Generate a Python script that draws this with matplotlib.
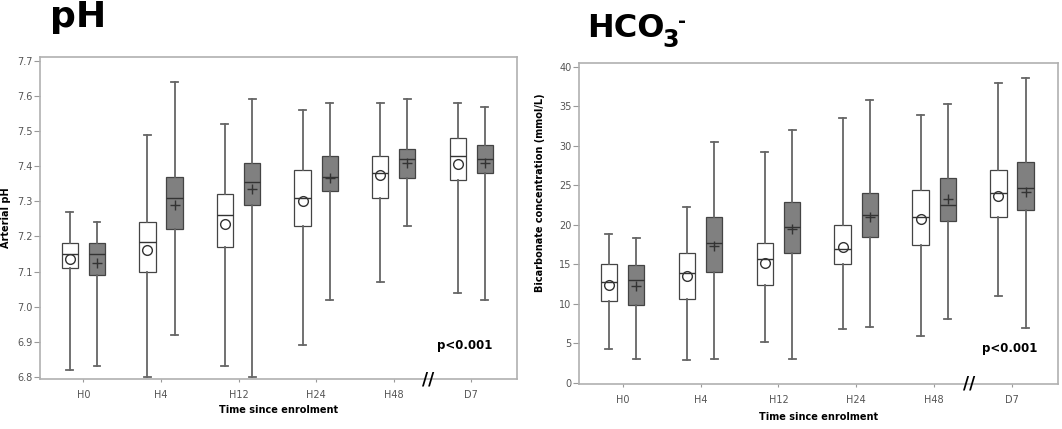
import numpy as np
import matplotlib
matplotlib.use("Agg")
import matplotlib.pyplot as plt

# Categories
labels = ["H0", "H4", "H12", "H24", "H48", "D7"]

# pH - white group (circle = mean)
ph_w_low = [6.82, 6.80, 6.83, 6.89, 7.07, 7.04]
ph_w_q1 = [7.11, 7.10, 7.17, 7.23, 7.31, 7.36]
ph_w_med = [7.15, 7.185, 7.26, 7.31, 7.38, 7.43]
ph_w_q3 = [7.18, 7.24, 7.32, 7.39, 7.43, 7.48]
ph_w_high = [7.27, 7.49, 7.52, 7.56, 7.58, 7.58]
ph_w_mean = [7.135, 7.16, 7.235, 7.30, 7.375, 7.405]

# pH - grey group (plus = mean)
ph_g_low = [6.83, 6.92, 6.80, 7.02, 7.23, 7.02]
ph_g_q1 = [7.09, 7.22, 7.29, 7.33, 7.365, 7.38]
ph_g_med = [7.15, 7.31, 7.355, 7.37, 7.42, 7.42]
ph_g_q3 = [7.18, 7.37, 7.41, 7.43, 7.45, 7.46]
ph_g_high = [7.24, 7.64, 7.59, 7.58, 7.59, 7.57]
ph_g_mean = [7.125, 7.29, 7.335, 7.365, 7.41, 7.41]

# HCO3 - white group
hc_w_low = [4.3, 2.9, 5.2, 6.8, 5.95, 11.0]
hc_w_q1 = [10.3, 10.6, 12.4, 15.0, 17.4, 21.0]
hc_w_med = [12.8, 13.9, 15.7, 17.0, 21.05, 24.05]
hc_w_q3 = [15.0, 16.4, 17.7, 20.0, 24.4, 27.0]
hc_w_high = [18.8, 22.3, 29.2, 33.5, 33.9, 38.0]
hc_w_mean = [12.4, 13.5, 15.2, 17.25, 20.8, 23.6]

# HCO3 - grey group
hc_g_low = [3.0, 3.0, 3.0, 7.1, 8.1, 6.9]
hc_g_q1 = [9.85, 14.0, 16.5, 18.5, 20.5, 21.9]
hc_g_med = [13.0, 17.7, 19.7, 21.3, 22.5, 24.7]
hc_g_q3 = [14.9, 21.0, 22.95, 24.0, 26.0, 28.0]
hc_g_high = [18.4, 30.5, 32.0, 35.8, 35.3, 38.65]
hc_g_mean = [12.2, 17.35, 19.45, 21.05, 23.3, 24.2]

ph_ticks = [6.8, 6.9, 7.0, 7.1, 7.2, 7.3, 7.4, 7.5, 7.6, 7.7]
hc_ticks = [0, 5, 10, 15, 20, 25, 30, 35, 40]

BOX_EDGE = "#444444"
WHISK = "#666666"
SPINE = "#b0b0b0"
TICKLAB = "#555555"


def make_stats(low, q1, med, q3, high, mean):
    stats = []
    for i in range(len(low)):
        stats.append({"whislo": low[i], "q1": q1[i], "med": med[i],
                      "q3": q3[i], "whishi": high[i], "mean": mean[i],
                      "fliers": []})
    return stats


def draw_group(ax, stats, positions, fill, mean_marker):
    ax.bxp(stats, positions=positions, widths=0.21, capwidths=0.09,
           showmeans=True, showfliers=False, patch_artist=True,
           boxprops=dict(facecolor=fill, edgecolor=BOX_EDGE, linewidth=0.9),
           medianprops=dict(color="#333333", linewidth=1.0),
           whiskerprops=dict(color=WHISK, linewidth=1.3),
           capprops=dict(color=WHISK, linewidth=1.3),
           meanprops=dict(marker=mean_marker, markerfacecolor="none",
                          markeredgecolor="#333333", markersize=7,
                          markeredgewidth=1.0))


def style_axes(ax, ticks, ylim, ylabel, ylab_xy, xlab_y):
    x = np.arange(len(labels))
    ax.set_xlim(-0.56, 5.59)
    ax.set_ylim(*ylim)
    ax.set_xticks(x)
    ax.set_xticklabels(labels)
    ax.set_yticks(ticks)
    for s in ax.spines.values():
        s.set_color(SPINE)
        s.set_linewidth(1.2)
    ax.tick_params(axis="y", length=4, width=0.8, color="#999999",
                   labelsize=7, labelcolor=TICKLAB, pad=1.5)
    ax.tick_params(axis="x", length=2, width=0.8, color="#999999",
                   labelsize=7, labelcolor=TICKLAB, pad=6)
    ax.set_ylabel(ylabel, fontsize=7, fontweight="bold")
    ax.yaxis.set_label_coords(*ylab_xy)
    ax.set_xlabel("Time since enrolment", fontsize=7, fontweight="bold")
    ax.xaxis.set_label_coords(0.5, xlab_y)
    # axis break marker between H48 and D7
    ax.text(4.45, 0.0, "//", transform=ax.get_xaxis_transform(),
            fontsize=12, fontweight="bold", ha="center", va="center",
            clip_on=False)


fig = plt.figure(figsize=(10.62, 4.29), dpi=100)
fig.patch.set_facecolor("white")

x = np.arange(len(labels))

# Left panel: pH
ax1 = fig.add_axes([40 / 1062, 50 / 429, 477 / 1062, 322 / 429])
draw_group(ax1, make_stats(ph_w_low, ph_w_q1, ph_w_med, ph_w_q3, ph_w_high, ph_w_mean),
           x - 0.175, "white", "o")
draw_group(ax1, make_stats(ph_g_low, ph_g_q1, ph_g_med, ph_g_q3, ph_g_high, ph_g_mean),
           x + 0.175, "#808080", "+")
style_axes(ax1, ph_ticks, (6.794, 7.711), "Arterial pH", (-0.06, 0.5), -0.08)
ax1.text(0.89, 0.105, "p<0.001", transform=ax1.transAxes, fontsize=8.5,
         fontweight="bold", ha="center", va="center")

# Right panel: HCO3-
ax2 = fig.add_axes([579 / 1062, 45 / 429, 479 / 1062, 321 / 429])
draw_group(ax2, make_stats(hc_w_low, hc_w_q1, hc_w_med, hc_w_q3, hc_w_high, hc_w_mean),
           x - 0.175, "white", "o")
draw_group(ax2, make_stats(hc_g_low, hc_g_q1, hc_g_med, hc_g_q3, hc_g_high, hc_g_mean),
           x + 0.175, "#808080", "+")
style_axes(ax2, hc_ticks, (-0.15, 40.5), "Bicarbonate concentration (mmol/L)",
           (-0.07, 0.595), -0.087)
ax2.text(0.9, 0.11, "p<0.001", transform=ax2.transAxes, fontsize=8.5,
         fontweight="bold", ha="center", va="center")

# Panel titles
fig.text(78 / 1062, 1 - 27 / 429, "pH", fontsize=26, fontweight="bold",
         ha="center", va="baseline")
t_hco = fig.text(587 / 1062, 1 - 37 / 429, "HCO", fontsize=23,
                 fontweight="bold", ha="left", va="baseline")
fig.canvas.draw()
bb = t_hco.get_window_extent()
t_sub = fig.text((bb.x1 - 2) / 1062, 1 - 47 / 429, "3", fontsize=17,
                 fontweight="bold", ha="left", va="baseline")
fig.canvas.draw()
bb3 = t_sub.get_window_extent()
fig.text((bb3.x1 - 1) / 1062, 1 - 27 / 429, "-", fontsize=14,
         fontweight="bold", ha="left", va="baseline")

fig.savefig("out.png", dpi=100, facecolor="white")
